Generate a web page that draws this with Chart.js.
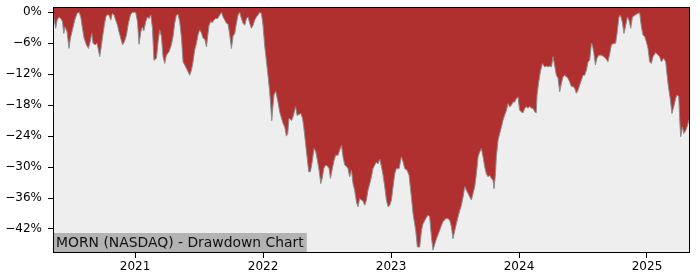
<!DOCTYPE html>
<html><head><meta charset="utf-8">
<script src="https://cdn.jsdelivr.net/npm/chart.js@4.4.1/dist/chart.umd.min.js"></script>
<style>html,body{margin:0;padding:0;background:#fff;overflow:hidden}#wrap{width:700px;height:280px}</style>
</head><body><div id="wrap"><canvas id="c" width="700" height="280"></canvas></div>
<script>
const chartTitle = 'MORN (NASDAQ) - Drawdown Chart';
// decimal-year dates
const dates = [
2020.359,2020.365,2020.380,2020.391,2020.406,2020.420,2020.433,2020.443,2020.453,2020.469,2020.484,2020.495,2020.511,2020.529,2020.547,2020.563,2020.576,2020.589,2020.602,2020.620,2020.636,2020.652,2020.662,2020.672,2020.688,2020.703,2020.714,2020.724,2020.734,2020.745,2020.758,2020.771,2020.781,2020.797,2020.810,2020.823,2020.836,2020.849,2020.863,2020.875,2020.888,2020.902,2020.917,2020.933,2020.948,2020.964,2020.980,
2021.005,2021.019,2021.031,2021.045,2021.058,2021.068,2021.084,2021.097,2021.109,2021.123,2021.136,2021.148,2021.167,2021.180,2021.193,2021.206,2021.219,2021.232,2021.245,2021.266,2021.284,2021.297,2021.310,2021.323,2021.336,2021.349,2021.363,2021.375,2021.388,2021.402,2021.414,2021.427,2021.441,2021.453,2021.466,2021.480,2021.492,2021.505,2021.519,2021.531,2021.545,2021.558,2021.566,2021.578,2021.591,2021.605,2021.615,2021.630,2021.646,2021.662,2021.675,2021.688,2021.701,2021.714,2021.727,2021.740,2021.753,2021.766,2021.779,2021.792,2021.805,2021.818,2021.831,2021.844,2021.857,2021.870,2021.883,2021.896,2021.909,2021.922,2021.935,2021.948,2021.961,2021.974,2021.988,
2022.000,2022.013,2022.027,2022.039,2022.052,2022.060,2022.068,2022.078,2022.086,2022.099,2022.117,2022.130,2022.144,2022.156,2022.170,2022.183,2022.193,2022.203,2022.222,2022.234,2022.255,2022.266,2022.281,2022.295,2022.308,2022.318,2022.331,2022.344,2022.357,2022.370,2022.386,2022.398,2022.412,2022.425,2022.438,2022.451,2022.464,2022.474,2022.490,2022.503,2022.516,2022.527,2022.539,2022.555,2022.568,2022.586,2022.599,2022.613,2022.625,2022.638,2022.652,2022.664,2022.677,2022.691,2022.703,2022.716,2022.730,2022.742,2022.755,2022.769,2022.781,2022.795,2022.808,2022.820,2022.834,2022.847,2022.859,2022.873,2022.886,2022.898,2022.912,2022.925,2022.938,2022.951,2022.964,2022.977,2022.990,
2023.003,2023.016,2023.029,2023.042,2023.063,2023.081,2023.094,2023.107,2023.125,2023.141,2023.159,2023.172,2023.193,2023.206,2023.224,2023.238,2023.250,2023.271,2023.289,2023.302,2023.316,2023.328,2023.341,2023.355,2023.380,2023.394,2023.406,2023.427,2023.445,2023.459,2023.472,2023.484,2023.498,2023.511,2023.523,2023.537,2023.550,2023.563,2023.576,2023.589,2023.602,2023.615,2023.628,2023.641,2023.654,2023.667,2023.680,2023.693,2023.706,2023.719,2023.732,2023.745,2023.758,2023.771,2023.784,2023.797,2023.805,2023.816,2023.823,2023.836,2023.849,2023.863,2023.875,2023.888,2023.902,2023.914,2023.927,2023.941,2023.953,2023.966,2023.980,2023.992,
2024.005,2024.019,2024.031,2024.045,2024.058,2024.070,2024.084,2024.097,2024.109,2024.123,2024.134,2024.141,2024.154,2024.167,2024.183,2024.201,2024.214,2024.227,2024.240,2024.253,2024.266,2024.279,2024.292,2024.305,2024.318,2024.331,2024.344,2024.357,2024.370,2024.383,2024.396,2024.409,2024.422,2024.435,2024.448,2024.461,2024.474,2024.488,2024.500,2024.513,2024.527,2024.539,2024.552,2024.566,2024.573,2024.584,2024.597,2024.609,2024.623,2024.644,2024.662,2024.677,2024.695,2024.709,2024.722,2024.734,2024.755,2024.766,2024.781,2024.792,2024.808,2024.820,2024.834,2024.847,2024.859,2024.873,2024.886,2024.904,2024.922,2024.943,2024.956,2024.969,2024.982,2024.995,
2025.008,2025.021,2025.034,2025.047,2025.068,2025.084,2025.099,2025.113,2025.130,2025.146,2025.164,2025.183,2025.195,2025.209,2025.224,2025.234,2025.248,2025.256,2025.263,2025.277,2025.287,2025.302,2025.313,2025.328,2025.336
];
// drawdown in percent
const drawdown = [
-0.5,-1.0,-3.1,-1.5,-0.9,-1.2,-1.8,-4.1,-2.8,-3.8,-7.0,-5.0,-3.4,-1.5,-0.2,0,-0.9,-3.1,-5.0,-6.3,-7.0,-5.4,-4.1,-6.0,-6.3,-6.0,-7.3,-8.6,-7.0,-5.0,-2.8,-0.9,-0.5,-0.5,-1.5,-0.2,-0.5,-1.5,-2.5,-3.8,-5.0,-6.3,-5.7,-4.4,-2.1,-0.5,0,
0,-1.8,-6.2,-3.8,-2.8,-3.6,-1.8,-0.9,-1.2,-0.5,-3.1,-9.3,-8.9,-5.7,-3.4,-4.7,-8.6,-9.9,-8.3,-7.6,-6.3,-4.7,-2.1,-0.5,-0.4,-1.8,-5.0,-9.6,-10.2,-10.9,-11.5,-12.2,-11.2,-9.6,-7.3,-6.0,-4.4,-3.4,-4.0,-5.0,-5.2,-6.7,-5.0,-2.5,-1.8,-2.0,-1.5,-1.2,-1.2,-0.5,0,-0.9,-1.5,-2.1,-2.3,-4.4,-7.0,-4.6,-4.1,-2.1,-0.5,0,-1.2,-2.1,-2.5,-1.2,-0.9,-2.1,-3.1,-2.5,-1.5,-0.9,-0.5,0,-0.3,
-2.5,-6.5,-9.6,-12.3,-15.4,-18.0,-21.0,-18.0,-16.0,-15.3,-17.4,-19.3,-20.5,-21.5,-22.3,-24.0,-23.5,-20.5,-21.0,-20.3,-18.3,-20.0,-19.8,-19.6,-20.5,-22.2,-25.1,-28.0,-30.9,-30.9,-28.7,-26.4,-27.0,-28.7,-30.6,-33.2,-32.0,-30.3,-29.6,-29.8,-30.3,-32.2,-30.6,-28.7,-27.7,-27.7,-26.7,-25.8,-28.0,-29.6,-29.9,-30.3,-31.9,-30.6,-33.2,-34.5,-36.8,-37.7,-36.1,-36.4,-36.6,-37.4,-36.4,-34.5,-33.2,-31.9,-30.3,-29.6,-29.0,-29.4,-28.5,-29.9,-31.6,-33.8,-36.4,-37.7,-37.4,
-36.4,-33.8,-31.3,-30.3,-30.3,-28.0,-29.0,-30.3,-30.6,-31.6,-35.8,-39.0,-42.3,-45.5,-45.5,-42.3,-41.0,-40.0,-39.3,-39.6,-43.6,-46.1,-45.0,-43.9,-42.3,-41.3,-40.6,-40.0,-40.0,-40.3,-41.6,-43.9,-42.3,-41.0,-39.7,-38.4,-37.4,-35.8,-33.8,-34.5,-35.1,-35.8,-36.4,-35.1,-33.8,-31.3,-28.0,-27.1,-26.4,-28.0,-30.0,-31.3,-31.9,-31.6,-32.2,-32.6,-34.2,-31.3,-28.0,-24.8,-23.5,-22.2,-20.9,-19.9,-19.0,-17.7,-18.3,-18.0,-17.4,-17.4,-16.7,-16.4,
-19.0,-19.3,-19.5,-18.6,-18.3,-18.6,-18.2,-18.6,-18.6,-19.3,-19.5,-16.0,-13.5,-11.5,-9.9,-10.6,-10.4,-10.6,-10.4,-10.6,-8.6,-10.4,-12.2,-12.8,-15.4,-13.8,-12.5,-12.2,-12.5,-12.8,-13.5,-14.4,-14.4,-14.7,-15.7,-15.1,-14.1,-13.1,-12.2,-12.2,-11.2,-9.6,-9.3,-6.0,-6.3,-7.8,-10.2,-8.9,-8.3,-8.3,-8.6,-8.9,-9.6,-8.0,-6.3,-6.1,-6.0,-4.1,-0.9,-0.5,-2.0,-4.1,-2.5,-0.9,-1.5,-3.1,-0.9,-0.6,-0.3,-0.1,-2.8,-4.4,-4.7,-5.7,
-7.0,-9.6,-9.9,-8.6,-7.8,-8.2,-8.6,-9.6,-8.9,-9.6,-13.8,-17.0,-19.6,-18.3,-16.7,-16.0,-16.3,-20.9,-24.1,-22.2,-23.5,-22.9,-22.2,-20.9,-21.0
];
const xTickValues = [2021, 2022, 2023, 2024, 2025];
const xTickLabels = ['2021', '2022', '2023', '2024', '2025'];
const yTickValues = [0, -6, -12, -18, -24, -30, -36, -42];
const yTickLabels = ['0%', '−6%', '−12%', '−18%', '−24%', '−30%', '−36%', '−42%'];
const xRange = [2020.359, 2025.336];
const yRange = [-46.66, 1.03];

const framePlugin = {
  id: 'frame',
  beforeDatasetsDraw(chart) {
    const {ctx, chartArea: a} = chart;
    ctx.save();
    ctx.fillStyle = '#eeeeee';
    ctx.fillRect(a.left, a.top, a.right - a.left, a.bottom - a.top);
    ctx.restore();
  },
  afterDraw(chart) {
    const {ctx, chartArea: a} = chart;
    ctx.save();
    ctx.font = '13.9px "DejaVu Sans"';
    const w = ctx.measureText(chartTitle).width;
    ctx.fillStyle = '#b3b3b3';
    ctx.fillRect(a.left, a.bottom - 20, w + 6, 20);
    ctx.fillStyle = '#111';
    ctx.textBaseline = 'alphabetic';
    ctx.fillText(chartTitle, a.left + 3, a.bottom - 6);
    ctx.strokeStyle = '#000';
    ctx.lineWidth = 1;
    ctx.strokeRect(Math.round(a.left) + 0.5, Math.round(a.top) + 0.5, Math.round(a.right - a.left) - 1, Math.round(a.bottom - a.top) - 1);
    ctx.restore();
  }
};

new Chart(document.getElementById('c'), {
  type: 'line',
  data: {
    datasets: [{
      data: dates.map((d, i) => ({x: d, y: drawdown[i]})),
      fill: 'end',
      backgroundColor: '#b03030',
      borderColor: '#8c8c8c',
      borderWidth: 1,
      pointRadius: 0,
      tension: 0
    }]
  },
  options: {
    responsive: false,
    animation: false,
    events: [],
    layout: {padding: {top: 7, right: 10, left: 0, bottom: 0}},
    plugins: {legend: {display: false}, tooltip: {enabled: false}},
    scales: {
      x: {
        type: 'linear', min: xRange[0], max: xRange[1],
        afterBuildTicks: s => { s.ticks = xTickValues.map(v => ({value: v})); },
        afterFit: s => { s.height = 27; s.paddingLeft = 0; s.paddingRight = 0; },
        ticks: {callback: (v, i) => xTickLabels[i], font: {family: 'DejaVu Sans', size: 12}, color: '#000', padding: 2, maxRotation: 0, autoSkip: false},
        grid: {drawOnChartArea: false, drawTicks: true, tickLength: 5, color: '#000', lineWidth: 1},
        border: {display: false}
      },
      y: {
        type: 'linear', min: yRange[0], max: yRange[1],
        afterBuildTicks: s => { s.ticks = yTickValues.map(v => ({value: v})); },
        afterFit: s => { s.width = 53; s.paddingTop = 0; s.paddingBottom = 0; },
        ticks: {callback: (v, i) => yTickLabels[i], font: {family: 'DejaVu Sans', size: 12}, color: '#000', padding: 6, autoSkip: false},
        grid: {drawOnChartArea: false, drawTicks: true, tickLength: 5, color: '#000', lineWidth: 1},
        border: {display: false}
      }
    }
  },
  plugins: [framePlugin]
});
</script></body></html>
